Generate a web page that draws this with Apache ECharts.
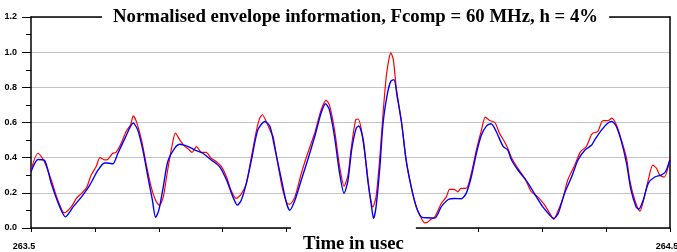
<!DOCTYPE html>
<html>
<head>
<meta charset="utf-8">
<script src="https://cdn.jsdelivr.net/npm/echarts@6/dist/echarts.min.js"></script>
<style>
  html, body { margin: 0; padding: 0; background: #fff; }
  #chart { width: 677px; height: 252px; }
</style>
</head>
<body>
<div id="chart"></div>
<script>
var titleText = 'Normalised envelope information, Fcomp = 60 MHz, h = 4%';
var xName = 'Time in usec';
var xMin = 263.5, xMax = 264.5, xStep = 0.1;
var yMin = 0, yMax = 1.2, yStep = 0.2;

// red trace (time in usec, normalised envelope)
var redTime = [263.500, 263.511, 263.521, 263.532, 263.542, 263.552, 263.563, 263.571, 263.579, 263.587,
  263.594, 263.602, 263.608, 263.615, 263.620, 263.628, 263.633, 263.641, 263.649, 263.656,
  263.660, 263.665, 263.673, 263.680, 263.688, 263.695, 263.701, 263.707, 263.713, 263.720,
  263.726, 263.733, 263.741, 263.746, 263.752, 263.759, 263.767, 263.774, 263.782, 263.790,
  263.798, 263.806, 263.813, 263.821, 263.829, 263.837, 263.845, 263.853, 263.858, 263.862,
  263.868, 263.876, 263.879, 263.887, 263.894, 263.901, 263.905, 263.913, 263.923, 263.933,
  263.944, 263.954, 263.962, 263.967, 263.975, 263.983, 263.990, 263.996, 264.001, 264.008,
  264.012, 264.017, 264.025, 264.030, 264.035, 264.040, 264.046, 264.051, 264.056, 264.060,
  264.063, 264.067, 264.072, 264.080, 264.087, 264.095, 264.103, 264.111, 264.116, 264.121,
  264.126, 264.132, 264.142, 264.150, 264.155, 264.162, 264.168, 264.173, 264.181, 264.189,
  264.197, 264.205, 264.211, 264.218, 264.226, 264.233, 264.241, 264.246, 264.252, 264.262,
  264.273, 264.283, 264.293, 264.304, 264.312, 264.318, 264.325, 264.333, 264.340, 264.351,
  264.360, 264.369, 264.377, 264.380, 264.387, 264.395, 264.403, 264.409, 264.416, 264.424,
  264.432, 264.437, 264.445, 264.453, 264.458, 264.466, 264.473, 264.479, 264.484, 264.491,
  264.500];
var redValue = [0.33, 0.425, 0.377, 0.27, 0.158, 0.086, 0.12, 0.168, 0.197, 0.23,
  0.30, 0.35, 0.40, 0.387, 0.39, 0.425, 0.43, 0.48, 0.55, 0.587,
  0.638, 0.605, 0.50, 0.368, 0.234, 0.158, 0.128, 0.177, 0.31, 0.454,
  0.54, 0.50, 0.463, 0.45, 0.43, 0.463, 0.43, 0.43, 0.397, 0.377,
  0.349, 0.29, 0.215, 0.168, 0.193, 0.254, 0.406, 0.558, 0.625, 0.644,
  0.606, 0.54, 0.52, 0.349, 0.215, 0.139, 0.136, 0.177, 0.31, 0.425,
  0.54, 0.672, 0.726, 0.70, 0.558, 0.349, 0.238, 0.30, 0.45, 0.615,
  0.62, 0.558, 0.349, 0.197, 0.12, 0.177, 0.406, 0.654, 0.863, 0.958,
  0.996, 0.958, 0.787, 0.597, 0.387, 0.234, 0.12, 0.054, 0.029, 0.034,
  0.05, 0.063, 0.139, 0.177, 0.22, 0.22, 0.206, 0.225, 0.225, 0.31,
  0.444, 0.558, 0.631, 0.611, 0.60, 0.54, 0.491, 0.454, 0.40, 0.339,
  0.282, 0.206, 0.177, 0.13, 0.082, 0.05, 0.10, 0.177, 0.273, 0.358,
  0.434, 0.463, 0.53, 0.54, 0.549, 0.611, 0.611, 0.625, 0.587, 0.50,
  0.397, 0.273, 0.158, 0.095, 0.149, 0.273, 0.358, 0.339, 0.301, 0.29,
  0.397];

// blue trace
var blueTime = [263.500, 263.511, 263.521, 263.532, 263.545, 263.554, 263.566, 263.579, 263.592, 263.605,
  263.615, 263.620, 263.628, 263.636, 263.647, 263.660, 263.667, 263.675, 263.683, 263.690,
  263.695, 263.700, 263.707, 263.714, 263.725, 263.733, 263.743, 263.751, 263.756, 263.769,
  263.782, 263.795, 263.806, 263.816, 263.823, 263.829, 263.837, 263.845, 263.855, 263.866,
  263.874, 263.881, 263.892, 263.900, 263.905, 263.913, 263.923, 263.933, 263.944, 263.954,
  263.961, 263.967, 263.975, 263.983, 263.990, 263.996, 264.002, 264.009, 264.013, 264.020,
  264.027, 264.033, 264.036, 264.040, 264.046, 264.051, 264.058, 264.063, 264.068, 264.073,
  264.080, 264.087, 264.095, 264.103, 264.111, 264.121, 264.132, 264.142, 264.153, 264.163,
  264.173, 264.181, 264.189, 264.197, 264.205, 264.213, 264.220, 264.228, 264.239, 264.246,
  264.252, 264.262, 264.278, 264.291, 264.301, 264.312, 264.318, 264.325, 264.335, 264.346,
  264.356, 264.367, 264.377, 264.382, 264.393, 264.403, 264.409, 264.416, 264.424, 264.432,
  264.439, 264.447, 264.451, 264.458, 264.466, 264.476, 264.486, 264.493, 264.500];
var blueValue = [0.32, 0.39, 0.385, 0.25, 0.12, 0.063, 0.12, 0.177, 0.244, 0.33,
  0.37, 0.37, 0.365, 0.425, 0.51, 0.597, 0.558, 0.444, 0.29, 0.158,
  0.06, 0.10, 0.234, 0.377, 0.454, 0.476, 0.467, 0.454, 0.444, 0.425,
  0.387, 0.349, 0.273, 0.177, 0.13, 0.158, 0.254, 0.387, 0.558, 0.606,
  0.577, 0.463, 0.273, 0.139, 0.101, 0.158, 0.273, 0.387, 0.52, 0.654,
  0.707, 0.672, 0.52, 0.31, 0.197, 0.27, 0.45, 0.568, 0.58, 0.50,
  0.273, 0.12, 0.054, 0.12, 0.349, 0.597, 0.768, 0.834, 0.844, 0.749,
  0.597, 0.387, 0.234, 0.12, 0.063, 0.058, 0.056, 0.12, 0.162, 0.168,
  0.166, 0.197, 0.29, 0.425, 0.53, 0.581, 0.593, 0.549, 0.463, 0.444,
  0.387, 0.33, 0.254, 0.177, 0.12, 0.073, 0.054, 0.082, 0.197, 0.29,
  0.387, 0.444, 0.47, 0.50, 0.558, 0.597, 0.606, 0.577, 0.491, 0.368,
  0.215, 0.12, 0.107, 0.158, 0.254, 0.29, 0.301, 0.32, 0.39];

function zip(xs, ys) {
  var out = [];
  for (var i = 0; i < xs.length; i++) out.push([xs[i], ys[i]]);
  return out;
}

var chart = echarts.init(document.getElementById('chart'), null, { renderer: 'canvas' });
var labelFont = { fontFamily: 'Liberation Sans, Arial', fontWeight: 'bold', fontSize: 9, color: '#000' };
var serifBold = { fontFamily: 'Liberation Serif, Times New Roman', fontWeight: 'bold', fontSize: 18.8, color: '#000' };

chart.setOption({
  animation: false,
  backgroundColor: '#fff',
  // both texts sit on a white box so they cut the frame line like the original
  title: [{
    text: titleText,
    left: 102,
    top: 8,
    padding: [0, 11, 0, 11],
    itemGap: 0,
    backgroundColor: '#fff',
    textStyle: serifBold
  }, {
    text: xName,
    left: 291,
    top: 227,
    padding: [8, 12, 0, 12],
    itemGap: 0,
    backgroundColor: '#fff',
    textStyle: serifBold
  }],
  grid: { left: 31, right: 7, top: 17, bottom: 24, outerBoundsMode: 'none', containLabel: false },
  xAxis: [{
    type: 'value',
    min: xMin,
    max: xMax,
    interval: xStep,
    axisLine: { lineStyle: { color: '#000', width: 1.5 } },
    axisTick: { show: true, length: 4, lineStyle: { color: '#000' } },
    splitLine: { show: false },
    axisLabel: Object.assign({}, labelFont, {
      margin: 14,
      showMinLabel: true,
      showMaxLabel: true,
      formatter: function (v) {
        if (Math.abs(v - xMin) < 1e-6) return '{l|' + xMin.toFixed(1) + '}';
        if (Math.abs(v - xMax) < 1e-6) return '{r|' + xMax.toFixed(1) + '}';
        return '';
      },
      rich: {
        l: Object.assign({}, labelFont, { padding: [0, 14, 0, 0] }),
        r: Object.assign({}, labelFont, { padding: [0, 6, 0, 0] })
      }
    })
  }, {
    type: 'value',
    position: 'top',
    min: xMin,
    max: xMax,
    axisLine: { onZero: false, lineStyle: { color: '#000', width: 1.5 } },
    axisTick: { show: false },
    axisLabel: { show: false },
    splitLine: { show: false }
  }],
  yAxis: [{
    type: 'value',
    min: yMin,
    max: yMax,
    interval: yStep,
    axisLine: { show: true, lineStyle: { color: '#000', width: 1.5 } },
    axisTick: { show: true, length: 9, lineStyle: { color: '#000' } },
    minorTick: { show: true, splitNumber: 2, length: 5, lineStyle: { color: '#000' } },
    splitLine: { show: true, lineStyle: { color: '#c4c4c4', width: 1.2 } },
    axisLabel: Object.assign({}, labelFont, {
      margin: 14,
      formatter: function (v) { return v.toFixed(1); }
    })
  }, {
    type: 'value',
    position: 'right',
    min: yMin,
    max: yMax,
    axisLine: { show: true, onZero: false, lineStyle: { color: '#000', width: 1.5 } },
    axisTick: { show: false },
    axisLabel: { show: false },
    splitLine: { show: false }
  }],
  series: [{
    name: 'red',
    type: 'line',
    data: zip(redTime, redValue),
    showSymbol: false,
    smooth: 0.25,
    lineStyle: { color: '#ff0000', width: 1.2 },
    z: 3
  }, {
    name: 'blue',
    type: 'line',
    data: zip(blueTime, blueValue),
    showSymbol: false,
    smooth: 0.25,
    lineStyle: { color: '#0000ff', width: 1.4 },
    z: 4
  }]
});
</script>
</body>
</html>
